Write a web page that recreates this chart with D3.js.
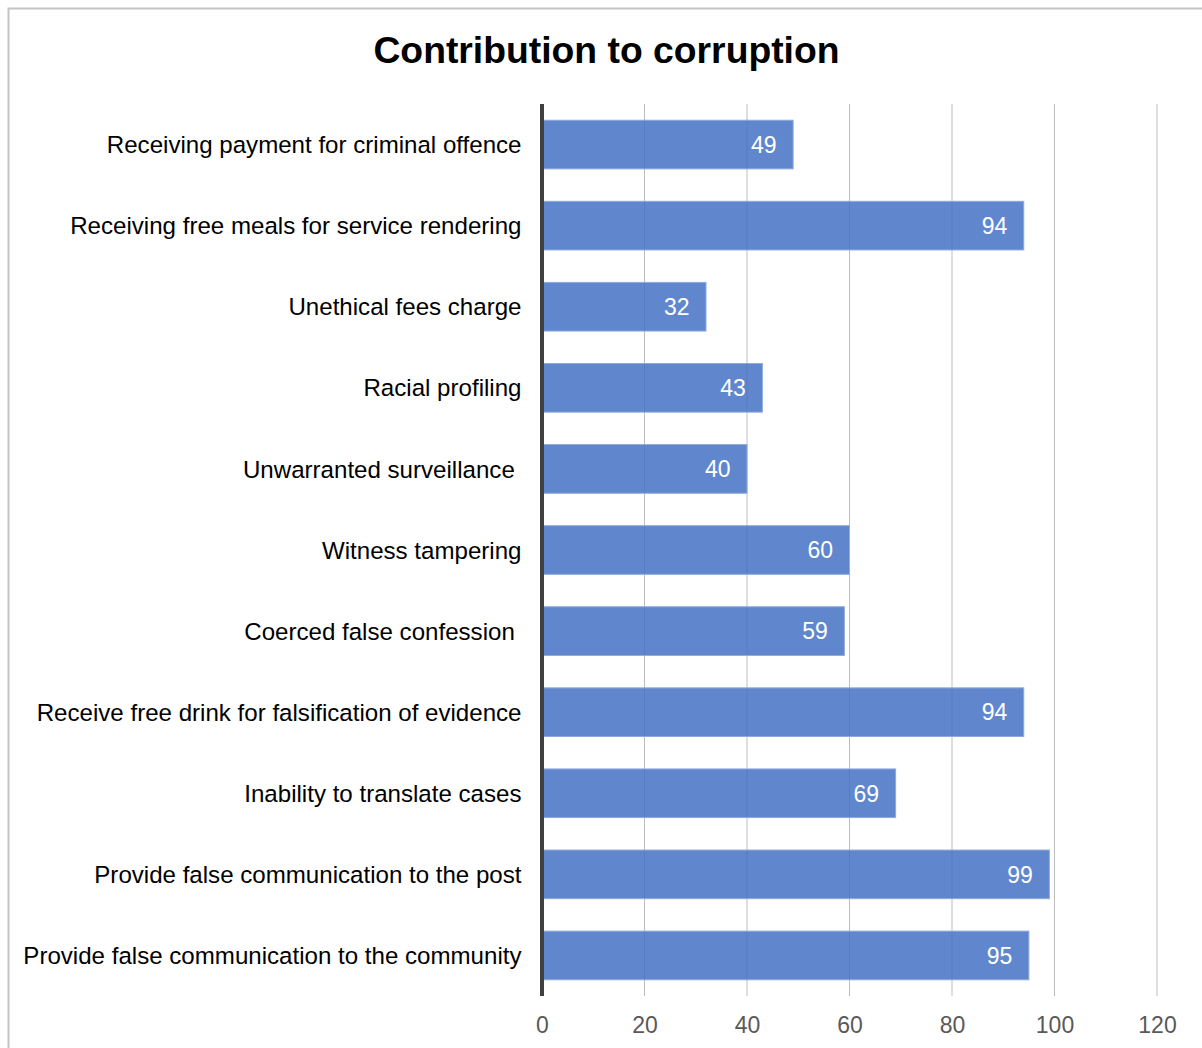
<!DOCTYPE html>
<html>
<head>
<meta charset="utf-8">
<script src="https://cdn.jsdelivr.net/npm/d3@7"></script>
<style>
  html, body { margin: 0; padding: 0; background: #fff; }
  svg { display: block; }
  text { font-family: "Liberation Sans", Arial, sans-serif; white-space: pre; }
</style>
</head>
<body>
<svg id="chart" width="1202" height="1048"></svg>
<script>
const categories = [
  "Receiving payment for criminal offence",
  "Receiving free meals for service rendering",
  "Unethical fees charge",
  "Racial profiling",
  "Unwarranted surveillance ",
  "Witness tampering",
  "Coerced false confession ",
  "Receive free drink for falsification of evidence",
  "Inability to translate cases",
  "Provide false communication to the post",
  "Provide false communication to the community"
];
const values = [49, 94, 32, 43, 40, 60, 59, 94, 69, 99, 95];
const xTicks = [0, 20, 40, 60, 80, 100, 120];
const title = "Contribution to corruption";

const svg = d3.select("#chart");

// outer border
svg.append("rect")
  .attr("x", 8.5).attr("y", 8.5)
  .attr("width", 1210).attr("height", 1060)
  .attr("fill", "none").attr("stroke", "#c4c4c4").attr("stroke-width", 2);

const x = d3.scaleLinear().domain([0, 120]).range([542, 1157]);
const y = d3.scaleBand().domain(categories).range([104, 996]).paddingInner(0.4).paddingOuter(0.2);

// gridlines
svg.append("g").selectAll("line")
  .data(xTicks.slice(1))
  .join("line")
  .attr("x1", d => x(d)).attr("x2", d => x(d))
  .attr("y1", 104).attr("y2", 996)
  .attr("stroke", "#bdbdbd").attr("stroke-width", 1);

// bars
svg.append("g").selectAll("rect")
  .data(values)
  .join("rect")
  .attr("x", x(0))
  .attr("y", (d, i) => y(categories[i]))
  .attr("width", d => x(d) - x(0))
  .attr("height", y.bandwidth())
  .attr("fill", "#4472c4")
  .attr("fill-opacity", 0.85)
  .attr("stroke", "#8eaadb")
  .attr("stroke-width", 1);

// value labels
svg.append("g").selectAll("text")
  .data(values)
  .join("text")
  .attr("x", d => x(d) - 16.5)
  .attr("y", (d, i) => y(categories[i]) + y.bandwidth() / 2)
  .attr("dy", "0.36em")
  .attr("text-anchor", "end")
  .attr("fill", "#ffffff")
  .attr("font-size", 23)
  .text(d => d);

// category axis labels
svg.append("g").selectAll("text")
  .data(categories)
  .join("text")
  .attr("x", 521.5)
  .attr("y", d => y(d) + y.bandwidth() / 2)
  .attr("dy", "0.36em")
  .attr("text-anchor", "end")
  .attr("fill", "#000000")
  .attr("font-size", 24.1)
  .text(d => d);

// x tick labels
const xAxis = d3.axisBottom(x).tickValues(xTicks).tickSize(0).tickPadding(0);
const gx = svg.append("g").attr("transform", "translate(0,1017)").call(xAxis);
gx.select(".domain").remove();
gx.selectAll("text")
  .attr("fill", "#595959")
  .attr("font-size", 23)
  .attr("font-family", "'Liberation Sans', Arial, sans-serif")
  .attr("dy", "0.71em");

// y axis line
svg.append("line")
  .attr("x1", x(0)).attr("x2", x(0))
  .attr("y1", 104).attr("y2", 996)
  .attr("stroke", "#404040").attr("stroke-width", 4);

// title
svg.append("text")
  .attr("x", 606.5).attr("y", 63)
  .attr("text-anchor", "middle")
  .attr("font-size", 37.3)
  .attr("font-weight", "bold")
  .attr("fill", "#000")
  .text(title);
</script>
</body>
</html>
